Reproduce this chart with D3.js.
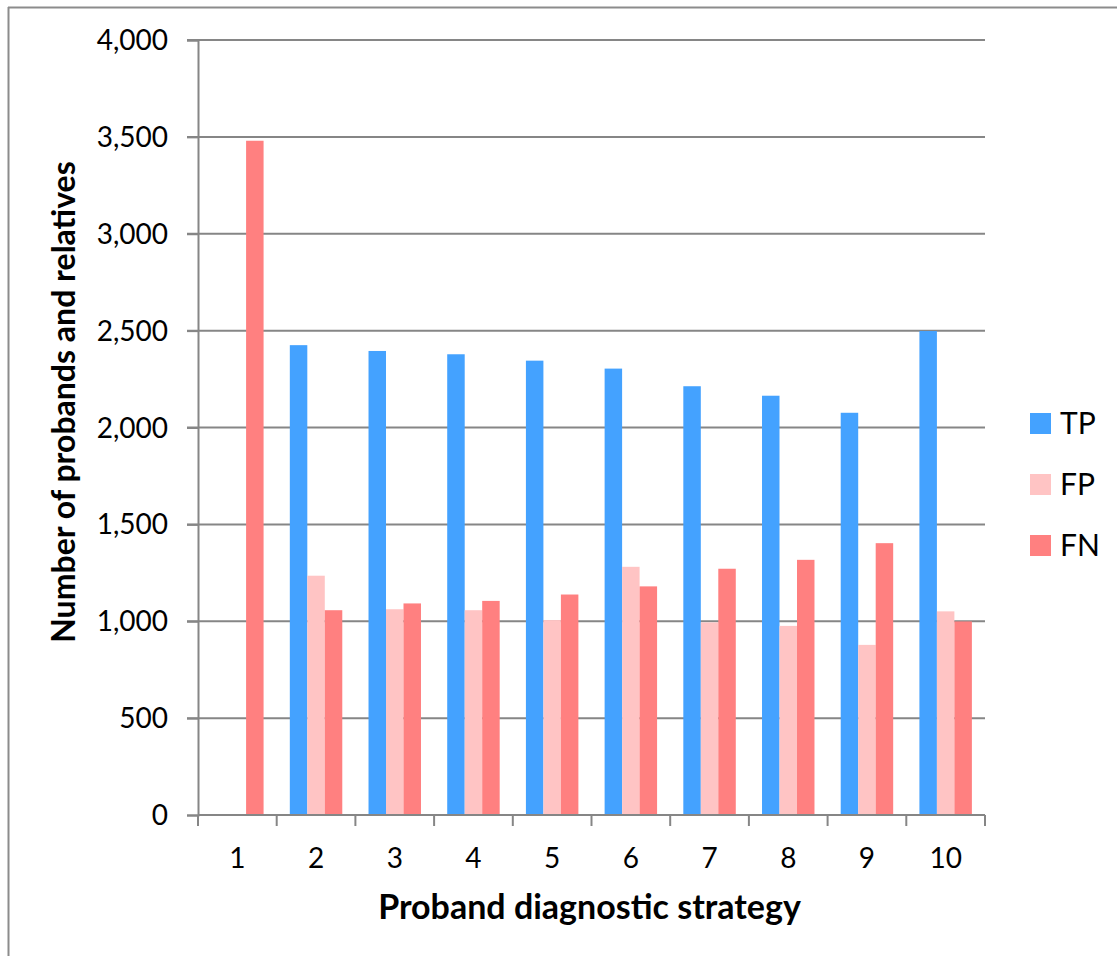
<!DOCTYPE html>
<html>
<head>
<meta charset="utf-8">
<script src="https://cdn.jsdelivr.net/npm/d3@7"></script>
<style>
  html, body { margin: 0; padding: 0; background: #fff; }
  svg { display: block; }
  text { font-family: Lato, "Open Sans", sans-serif; fill: #000; }
</style>
</head>
<body>
<svg id="chart" width="1117" height="956"></svg>
<script>
// Strategies on the x axis
const strategies = ["1", "2", "3", "4", "5", "6", "7", "8", "9", "10"];
// Series (number of probands and relatives); strategy 1 has no TP/FP bars
const seriesNames = ["TP", "FP", "FN"];
const tpValues = [0, 2425, 2395, 2378, 2345, 2304, 2213, 2164, 2076, 2498];
const fpValues = [0, 1235, 1062, 1057, 1006, 1281, 994, 976, 878, 1051];
const fnValues = [3480, 1057, 1092, 1105, 1138, 1180, 1271, 1317, 1403, 999];
const yTicks = [0, 500, 1000, 1500, 2000, 2500, 3000, 3500, 4000];
const colors = ["#44A2FF", "#FFC4C4", "#FF8080"];

const seriesValues = [tpValues, fpValues, fnValues];
const rows = strategies.map((s, i) => ({
  strategy: s,
  values: seriesNames.map((n, k) => ({ key: n, value: seriesValues[k][i] }))
}));

const svg = d3.select("#chart");
const margin = { left: 198, right: 132, top: 40, bottom: 141 };
const W = 1117, H = 956;
const plotW = W - margin.left - margin.right;
const plotH = H - margin.top - margin.bottom;

// outer frame: top and left edges
svg.append("line").attr("x1", 8).attr("x2", W).attr("y1", 7.5).attr("y2", 7.5)
  .attr("stroke", "#8c8c8c").attr("stroke-width", 2);
svg.append("line").attr("x1", 8.5).attr("x2", 8.5).attr("y1", 7).attr("y2", H)
  .attr("stroke", "#8c8c8c").attr("stroke-width", 2);

const g = svg.append("g").attr("transform", `translate(${margin.left},${margin.top})`);

const x = d3.scaleBand().domain(strategies).range([0, plotW]).paddingInner(0).paddingOuter(0);
const inner = d3.scaleBand().domain(seriesNames).range([0, x.bandwidth()]).paddingInner(0).paddingOuter(0.75);
const y = d3.scaleLinear().domain([0, 4000]).range([plotH, 0]);

// horizontal gridlines
g.append("g").selectAll("line").data(yTicks.filter(t => t > 0)).join("line")
  .attr("x1", -11).attr("x2", plotW)
  .attr("y1", d => y(d)).attr("y2", d => y(d))
  .attr("stroke", "#868686").attr("stroke-width", 2);

// y axis
const yAxis = g.append("g").call(
  d3.axisLeft(y).tickValues(yTicks).tickSize(11).tickPadding(19)
    .tickFormat(d3.format(","))
);
yAxis.select(".domain").attr("stroke", "#868686").attr("stroke-width", 2);
yAxis.selectAll(".tick line").attr("stroke", "#868686").attr("stroke-width", 2);
yAxis.selectAll(".tick text").attr("font-size", 28).attr("font-family", "Lato, sans-serif").attr("dy", "0.34em");

// bars
const groups = g.append("g").selectAll("g").data(rows).join("g")
  .attr("transform", d => `translate(${x(d.strategy)},0)`);
groups.selectAll("rect").data(d => d.values.filter(v => v.value > 0)).join("rect")
  .attr("x", d => inner(d.key))
  .attr("width", inner.bandwidth())
  .attr("y", d => y(d.value))
  .attr("height", d => plotH - y(d.value))
  .attr("fill", d => colors[seriesNames.indexOf(d.key)]);

// x axis with ticks between categories
const xAxis = g.append("g").attr("transform", `translate(0,${plotH})`);
xAxis.append("line").attr("x1", 0).attr("x2", plotW).attr("y1", 0).attr("y2", 0)
  .attr("stroke", "#868686").attr("stroke-width", 2);
const boundaries = strategies.map(s => x(s)).concat([plotW]);
xAxis.selectAll("line.tk").data(boundaries).join("line").attr("class", "tk")
  .attr("x1", d => d).attr("x2", d => d).attr("y1", 0).attr("y2", 11)
  .attr("stroke", "#868686").attr("stroke-width", 2);
xAxis.selectAll("text").data(strategies).join("text")
  .attr("x", d => x(d) + x.bandwidth() / 2)
  .attr("y", 53)
  .attr("text-anchor", "middle")
  .attr("font-size", 28)
  .text(d => d);

// axis titles
g.append("text")
  .attr("x", plotW / 2 - 2).attr("y", plotH + 104)
  .attr("text-anchor", "middle").attr("font-size", 34).attr("font-weight", "bold")
  .text("Proband diagnostic strategy");
svg.append("text")
  .attr("transform", `translate(75,402) rotate(-90)`)
  .attr("text-anchor", "middle").attr("font-size", 32).attr("font-weight", "bold")
  .text("Number of probands and relatives");

// legend
const legend = svg.append("g").attr("transform", "translate(1030,413)");
const li = legend.selectAll("g").data(seriesNames).join("g")
  .attr("transform", (d, i) => `translate(0,${i * 61})`);
li.append("rect").attr("width", 21).attr("height", 21).attr("fill", (d, i) => colors[i]);
li.append("text").attr("x", 30).attr("y", 21).attr("font-size", 30).text(d => d);
</script>
</body>
</html>
